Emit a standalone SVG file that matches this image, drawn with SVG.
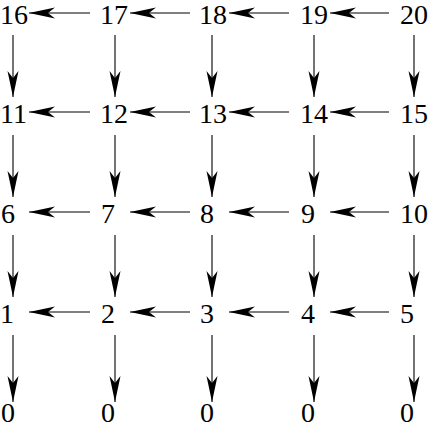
<svg xmlns="http://www.w3.org/2000/svg" width="434" height="426" viewBox="0 0 434 426">
<style>
text{font-family:"Liberation Serif","Times New Roman",serif;font-size:28px;fill:#000}
.c line{stroke:#000;stroke-width:1.1;marker-end:url(#ah)}
</style>
<defs>
<marker id="ah" markerUnits="userSpaceOnUse" viewBox="-27 -6 28 12" markerWidth="28" markerHeight="12" refX="0" refY="0" orient="auto">
<path d="M0,0 L-26,-5.5 L-19,0 L-26,5.5 Z" fill="#000"/>
</marker>
</defs>
<rect width="434" height="426" fill="#fff"/>
<g class="c" id="connectors">
<line x1="90" y1="13" x2="29" y2="13"/><line x1="190" y1="13" x2="130" y2="13"/><line x1="289" y1="13" x2="229" y2="13"/><line x1="389" y1="13" x2="330" y2="13"/>
<line x1="90" y1="112" x2="29" y2="112"/><line x1="190" y1="112" x2="130" y2="112"/><line x1="289" y1="112" x2="229" y2="112"/><line x1="389" y1="112" x2="330" y2="112"/>
<line x1="90" y1="212" x2="29" y2="212"/><line x1="190" y1="212" x2="130" y2="212"/><line x1="289" y1="212" x2="229" y2="212"/><line x1="389" y1="212" x2="330" y2="212"/>
<line x1="90" y1="312" x2="29" y2="312"/><line x1="190" y1="312" x2="130" y2="312"/><line x1="289" y1="312" x2="229" y2="312"/><line x1="389" y1="312" x2="330" y2="312"/>
<line x1="13" y1="35" x2="13" y2="97"/><line x1="115" y1="35" x2="115" y2="97"/><line x1="212" y1="35" x2="212" y2="97"/><line x1="314" y1="35" x2="314" y2="97"/><line x1="414" y1="35" x2="414" y2="97"/>
<line x1="13" y1="135" x2="13" y2="197"/><line x1="115" y1="135" x2="115" y2="197"/><line x1="212" y1="135" x2="212" y2="197"/><line x1="314" y1="135" x2="314" y2="197"/><line x1="414" y1="135" x2="414" y2="197"/>
<line x1="13" y1="235" x2="13" y2="297"/><line x1="115" y1="235" x2="115" y2="297"/><line x1="212" y1="235" x2="212" y2="297"/><line x1="314" y1="235" x2="314" y2="297"/><line x1="414" y1="235" x2="414" y2="297"/>
<line x1="13" y1="335" x2="13" y2="402"/><line x1="115" y1="335" x2="115" y2="402"/><line x1="212" y1="335" x2="212" y2="402"/><line x1="314" y1="335" x2="314" y2="402"/><line x1="414" y1="335" x2="414" y2="402"/>
</g>
<g id="n16"><text x="0" y="24">16</text></g>
<g id="n17"><text x="100" y="24">17</text></g>
<g id="n18"><text x="199" y="24">18</text></g>
<g id="n19"><text x="300" y="24">19</text></g>
<g id="n20"><text x="400" y="24">20</text></g>
<g id="n11"><text x="0" y="123">11</text></g>
<g id="n12"><text x="100" y="123">12</text></g>
<g id="n13"><text x="199" y="123">13</text></g>
<g id="n14"><text x="300" y="123">14</text></g>
<g id="n15"><text x="400" y="123">15</text></g>
<g id="n6"><text x="1" y="223">6</text></g>
<g id="n7"><text x="101" y="223">7</text></g>
<g id="n8"><text x="200" y="223">8</text></g>
<g id="n9"><text x="301" y="223">9</text></g>
<g id="n10"><text x="400" y="223">10</text></g>
<g id="n1"><text x="0" y="323">1</text></g>
<g id="n2"><text x="101" y="323">2</text></g>
<g id="n3"><text x="200" y="323">3</text></g>
<g id="n4"><text x="301" y="323">4</text></g>
<g id="n5"><text x="400" y="323">5</text></g>
<g id="n0a"><text x="1" y="422">0</text></g>
<g id="n0b"><text x="101" y="422">0</text></g>
<g id="n0c"><text x="200" y="422">0</text></g>
<g id="n0d"><text x="301" y="422">0</text></g>
<g id="n0e"><text x="400" y="422">0</text></g>
</svg>
